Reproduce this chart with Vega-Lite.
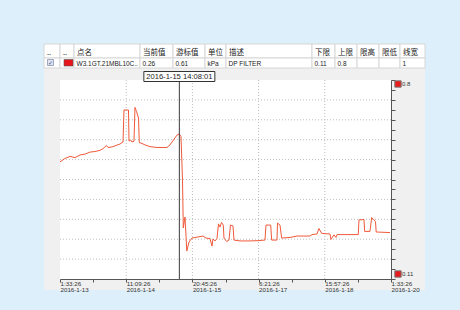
{
  "$schema": "https://vega.github.io/schema/vega-lite/v6.json",
  "width": 381,
  "height": 246,
  "autosize": {"type": "none"},
  "padding": {"left": 44, "top": 44, "right": 35, "bottom": 20},
  "background": "#ddeffa",
  "config": {"view": {"fill": "#f0f0f0", "stroke": null}},
  "datasets": {
    "series": [
      {"t":"2016-01-13T01:33","v":0.516},{"t":"2016-01-13T04:05","v":0.528},{"t":"2016-01-13T06:38","v":0.535},
      {"t":"2016-01-13T09:10","v":0.531},{"t":"2016-01-13T11:42","v":0.540},{"t":"2016-01-13T14:14","v":0.543},
      {"t":"2016-01-13T16:47","v":0.550},{"t":"2016-01-13T19:19","v":0.552},{"t":"2016-01-13T21:51","v":0.556},
      {"t":"2016-01-13T23:23","v":0.562},{"t":"2016-01-14T01:09","v":0.573},{"t":"2016-01-14T01:55","v":0.566},
      {"t":"2016-01-14T03:57","v":0.568},{"t":"2016-01-14T05:59","v":0.573},{"t":"2016-01-14T08:00","v":0.578},
      {"t":"2016-01-14T09:32","v":0.585},{"t":"2016-01-14T10:02","v":0.696},{"t":"2016-01-14T12:19","v":0.696},
      {"t":"2016-01-14T12:35","v":0.588},{"t":"2016-01-14T13:20","v":0.592},{"t":"2016-01-14T14:06","v":0.585},
      {"t":"2016-01-14T15:07","v":0.588},{"t":"2016-01-14T15:37","v":0.705},{"t":"2016-01-14T16:23","v":0.691},
      {"t":"2016-01-14T17:24","v":0.668},{"t":"2016-01-14T17:48","v":0.583},{"t":"2016-01-14T19:10","v":0.580},
      {"t":"2016-01-14T20:42","v":0.575},{"t":"2016-01-14T23:14","v":0.569},{"t":"2016-01-15T02:47","v":0.566},
      {"t":"2016-01-15T07:52","v":0.566},{"t":"2016-01-15T09:23","v":0.575},{"t":"2016-01-15T11:10","v":0.592},
      {"t":"2016-01-15T12:56","v":0.609},{"t":"2016-01-15T14:06","v":0.613},{"t":"2016-01-15T14:58","v":0.604},
      {"t":"2016-01-15T15:44","v":0.453},{"t":"2016-01-15T16:08","v":0.287},{"t":"2016-01-15T17:00","v":0.325},
      {"t":"2016-01-15T17:55","v":0.207},{"t":"2016-01-15T19:02","v":0.238},{"t":"2016-01-15T20:33","v":0.252},
      {"t":"2016-01-16T00:37","v":0.257},{"t":"2016-01-16T02:08","v":0.259},{"t":"2016-01-16T03:39","v":0.252},
      {"t":"2016-01-16T05:41","v":0.250},{"t":"2016-01-16T06:42","v":0.224},{"t":"2016-01-16T07:12","v":0.249},
      {"t":"2016-01-16T08:13","v":0.242},{"t":"2016-01-16T09:14","v":0.250},{"t":"2016-01-16T10:00","v":0.301},
      {"t":"2016-01-16T10:46","v":0.290},{"t":"2016-01-16T11:31","v":0.306},{"t":"2016-01-16T12:26","v":0.297},
      {"t":"2016-01-16T12:47","v":0.252},{"t":"2016-01-16T14:10","v":0.240},{"t":"2016-01-16T15:20","v":0.245},
      {"t":"2016-01-16T16:05","v":0.297},{"t":"2016-01-16T17:21","v":0.294},{"t":"2016-01-16T17:52","v":0.245},
      {"t":"2016-01-16T20:55","v":0.242},{"t":"2016-01-17T01:59","v":0.242},{"t":"2016-01-17T06:03","v":0.243},
      {"t":"2016-01-17T09:36","v":0.245},{"t":"2016-01-17T10:06","v":0.297},{"t":"2016-01-17T12:30","v":0.297},
      {"t":"2016-01-17T13:00","v":0.245},{"t":"2016-01-17T15:41","v":0.245},{"t":"2016-01-17T15:57","v":0.304},
      {"t":"2016-01-17T17:13","v":0.297},{"t":"2016-01-17T18:04","v":0.252},{"t":"2016-01-17T22:17","v":0.254},
      {"t":"2016-01-18T01:50","v":0.259},{"t":"2016-01-18T08:26","v":0.259},{"t":"2016-01-18T09:27","v":0.264},
      {"t":"2016-01-18T11:59","v":0.266},{"t":"2016-01-18T13:00","v":0.285},{"t":"2016-01-18T14:23","v":0.268},
      {"t":"2016-01-18T18:35","v":0.266},{"t":"2016-01-18T19:06","v":0.247},{"t":"2016-01-18T20:37","v":0.263},
      {"t":"2016-01-18T21:38","v":0.254},{"t":"2016-01-18T22:09","v":0.264},{"t":"2016-01-19T08:57","v":0.264},
      {"t":"2016-01-19T09:18","v":0.315},{"t":"2016-01-19T11:51","v":0.316},{"t":"2016-01-19T12:12","v":0.275},
      {"t":"2016-01-19T14:53","v":0.275},{"t":"2016-01-19T15:45","v":0.323},{"t":"2016-01-19T16:55","v":0.315},
      {"t":"2016-01-19T17:41","v":0.309},{"t":"2016-01-19T18:02","v":0.273},{"t":"2016-01-20T01:03","v":0.271}
    ],
    "frame": [{"t":"2016-01-13T01:33:26","end":"2016-01-20T01:33:26","v":0.11,"hi":0.8}],
    "vgrid": [{"t":"2016-01-14T11:09:26"},{"t":"2016-01-15T20:45:26"},{"t":"2016-01-17T06:21:26"},{"t":"2016-01-18T15:57:26"}],
    "hgrid": [{"v":0.179},{"v":0.248},{"v":0.317},{"v":0.386},{"v":0.455},{"v":0.524},{"v":0.593},{"v":0.662},{"v":0.731}],
    "cursor": [{"t":"2016-01-15T14:08:01","label":"2016-1-15 14:08:01","v":0.11,"hi":0.8}],
    "tip": [{"t":"2016-01-15T14:08:01","label":"2016-1-15 14:08:01","v":0.8}],
    "ends": [{"t":"2016-01-20T01:33:26","v":0.8,"label":"0.8","pos":"top"},{"t":"2016-01-20T01:33:26","v":0.11,"label":"0.11","pos":"bottom"}],
    "cells": [
      {"c":0,"c1":1,"r":0,"r1":1,"text":".."},{"c":1,"c1":2,"r":0,"r1":1,"text":".."},
      {"c":2,"c1":3,"r":0,"r1":1,"text":"点名"},{"c":3,"c1":4,"r":0,"r1":1,"text":"当前值"},
      {"c":4,"c1":5,"r":0,"r1":1,"text":"游标值"},{"c":5,"c1":6,"r":0,"r1":1,"text":"单位"},
      {"c":6,"c1":7,"r":0,"r1":1,"text":"描述"},{"c":7,"c1":8,"r":0,"r1":1,"text":"下限"},
      {"c":8,"c1":9,"r":0,"r1":1,"text":"上限"},{"c":9,"c1":10,"r":0,"r1":1,"text":"限高"},
      {"c":10,"c1":11,"r":0,"r1":1,"text":"限低"},{"c":11,"c1":12,"r":0,"r1":1,"text":"线宽"},
      {"c":0,"c1":1,"r":1,"r1":2,"text":""},{"c":1,"c1":2,"r":1,"r1":2,"text":""},
      {"c":2,"c1":3,"r":1,"r1":2,"text":"W3.1GT.21MBL10C.."},{"c":3,"c1":4,"r":1,"r1":2,"text":"0.26"},
      {"c":4,"c1":5,"r":1,"r1":2,"text":"0.61"},{"c":5,"c1":6,"r":1,"r1":2,"text":"kPa"},
      {"c":6,"c1":7,"r":1,"r1":2,"text":"DP FILTER"},{"c":7,"c1":8,"r":1,"r1":2,"text":"0.11"},
      {"c":8,"c1":9,"r":1,"r1":2,"text":"0.8"},{"c":9,"c1":10,"r":1,"r1":2,"text":""},
      {"c":10,"c1":11,"r":1,"r1":2,"text":""},{"c":11,"c1":12,"r":1,"r1":2,"text":"1"}
    ],
    "swatch": [{"c":1,"c1":2,"r":1,"r1":2}],
    "check": [{"c":0,"c1":1,"r":1,"r1":2,"text":"✓"}]
  },
  "layer": [
    {
      "layer": [
        {
          "data": {"name": "frame"},
          "mark": {"type": "rect", "fill": "#ffffff"},
          "encoding": {
            "x": {"field": "t", "type": "temporal", "title": null,
              "scale": {"type": "time", "domain": [{"year":2016,"month":1,"date":13,"hours":1,"minutes":33,"seconds":26},{"year":2016,"month":1,"date":20,"hours":1,"minutes":33,"seconds":26}], "range": [16, 347], "nice": false},
              "axis": {
                "orient": "bottom", "offset": -11, "title": null, "grid": false, "tickCount": 40,
                "values": [
                  {"year":2016,"month":1,"date":13,"hours":1,"minutes":33,"seconds":26},
                  {"year":2016,"month":1,"date":13,"hours":18,"minutes":21,"seconds":26},
                  {"year":2016,"month":1,"date":14,"hours":11,"minutes":9,"seconds":26},
                  {"year":2016,"month":1,"date":15,"hours":3,"minutes":57,"seconds":26},
                  {"year":2016,"month":1,"date":15,"hours":20,"minutes":45,"seconds":26},
                  {"year":2016,"month":1,"date":16,"hours":13,"minutes":33,"seconds":26},
                  {"year":2016,"month":1,"date":17,"hours":6,"minutes":21,"seconds":26},
                  {"year":2016,"month":1,"date":17,"hours":23,"minutes":9,"seconds":26},
                  {"year":2016,"month":1,"date":18,"hours":15,"minutes":57,"seconds":26},
                  {"year":2016,"month":1,"date":19,"hours":8,"minutes":45,"seconds":26},
                  {"year":2016,"month":1,"date":20,"hours":1,"minutes":33,"seconds":26}
                ],
                "labelExpr": "round(datum.index*10)%2==0 ? [timeFormat(datum.value,'%-H:%M:%S'), timeFormat(datum.value,'%Y-%-m-%-d')] : ''",
                "labelAlign": "left", "labelBaseline": "top", "labelPadding": -2,
                "labelFont": "Liberation Sans", "labelFontSize": 6.2, "labelLineHeight": 6.3,
                "labelColor": "#333333", "labelOverlap": false, "labelFlush": false, "labelBound": false,
                "domainColor": "#555555", "domainWidth": 1, "tickColor": "#555555", "tickSize": 3, "tickWidth": 1
              }},
            "x2": {"field": "end"},
            "y": {"field": "v", "type": "quantitative", "title": null,
              "scale": {"type": "linear", "domain": [0.11, 0.8], "range": [235, 36], "nice": false, "zero": false},
              "axis": {
                "orient": "right", "offset": -34, "title": null, "grid": false, "labels": false, "tickCount": 60,
                "values": [0.11,0.1445,0.179,0.2135,0.248,0.2825,0.317,0.3515,0.386,0.4205,0.455,0.4895,0.524,0.5585,0.593,0.6275,0.662,0.6965,0.731,0.7655,0.8],
                "domainColor": "#555555", "domainWidth": 1, "tickColor": "#555555", "tickSize": 4, "tickWidth": 1
              }},
            "y2": {"field": "hi"}
          }
        },
        {
          "data": {"name": "hgrid"},
          "mark": {"type": "rule", "stroke": "#bdbdbd", "strokeWidth": 1, "strokeDash": [1, 2]},
          "encoding": {
            "x": {"datum": {"year":2016,"month":1,"date":13,"hours":1,"minutes":33,"seconds":26}, "type": "temporal"},
            "x2": {"datum": {"year":2016,"month":1,"date":20,"hours":1,"minutes":33,"seconds":26}},
            "y": {"field": "v", "type": "quantitative", "title": null}
          }
        },
        {
          "data": {"name": "vgrid"},
          "mark": {"type": "rule", "stroke": "#bdbdbd", "strokeWidth": 1, "strokeDash": [1, 2]},
          "encoding": {
            "x": {"field": "t", "type": "temporal", "title": null},
            "y": {"datum": 0.11, "type": "quantitative"},
            "y2": {"datum": 0.8}
          }
        },
        {
          "data": {"name": "series"},
          "mark": {"type": "line", "stroke": "#f05a3a", "strokeWidth": 1},
          "encoding": {
            "x": {"field": "t", "type": "temporal", "title": null},
            "y": {"field": "v", "type": "quantitative", "title": null}
          }
        },
        {
          "data": {"name": "cursor"},
          "mark": {"type": "rule", "stroke": "#3a3a3a", "strokeWidth": 1},
          "encoding": {
            "x": {"field": "t", "type": "temporal", "title": null},
            "y": {"field": "v", "type": "quantitative", "title": null},
            "y2": {"field": "hi"}
          }
        },
        {
          "data": {"name": "tip"},
          "mark": {"type": "rect", "width": 71, "height": 10, "fill": "#ffffff", "stroke": "#333333", "strokeWidth": 1, "yOffset": -3.5},
          "encoding": {
            "x": {"field": "t", "type": "temporal", "title": null},
            "y": {"field": "v", "type": "quantitative", "title": null}
          }
        },
        {
          "data": {"name": "tip"},
          "mark": {"type": "text", "font": "Liberation Sans", "fontSize": 7.6, "color": "#222222", "align": "center", "baseline": "middle", "dy": -3.5},
          "encoding": {
            "x": {"field": "t", "type": "temporal", "title": null},
            "y": {"field": "v", "type": "quantitative", "title": null},
            "text": {"field": "label"}
          }
        },
        {
          "data": {"name": "ends"},
          "transform": [{"filter": "datum.pos == 'top'"}],
          "mark": {"type": "square", "size": 40, "filled": true, "fill": "#e81c1c", "stroke": "#777777", "strokeWidth": 1, "opacity": 1, "xOffset": 7, "yOffset": 4},
          "encoding": {
            "x": {"field": "t", "type": "temporal", "title": null},
            "y": {"field": "v", "type": "quantitative", "title": null}
          }
        },
        {
          "data": {"name": "ends"},
          "transform": [{"filter": "datum.pos == 'bottom'"}],
          "mark": {"type": "square", "size": 40, "filled": true, "fill": "#e81c1c", "stroke": "#777777", "strokeWidth": 1, "opacity": 1, "xOffset": 7, "yOffset": -5},
          "encoding": {
            "x": {"field": "t", "type": "temporal", "title": null},
            "y": {"field": "v", "type": "quantitative", "title": null}
          }
        },
        {
          "data": {"name": "ends"},
          "transform": [{"filter": "datum.pos == 'top'"}],
          "mark": {"type": "text", "font": "Liberation Sans", "fontSize": 6, "color": "#333333", "align": "left", "baseline": "middle", "dx": 11, "dy": 4},
          "encoding": {
            "x": {"field": "t", "type": "temporal", "title": null},
            "y": {"field": "v", "type": "quantitative", "title": null},
            "text": {"field": "label"}
          }
        },
        {
          "data": {"name": "ends"},
          "transform": [{"filter": "datum.pos == 'bottom'"}],
          "mark": {"type": "text", "font": "Liberation Sans", "fontSize": 6, "color": "#333333", "align": "left", "baseline": "middle", "dx": 11, "dy": -5},
          "encoding": {
            "x": {"field": "t", "type": "temporal", "title": null},
            "y": {"field": "v", "type": "quantitative", "title": null},
            "text": {"field": "label"}
          }
        }
      ]
    },
    {
      "layer": [
        {
          "data": {"name": "cells"},
          "mark": {"type": "rect", "fill": "#ffffff", "stroke": "#d6d6d6", "strokeWidth": 1},
          "encoding": {
            "x": {"field": "c", "type": "quantitative", "axis": null,
              "scale": {"type": "linear", "domain": [0,1,2,3,4,5,6,7,8,9,10,11,12], "range": [0,16,30,96,129,161,182,268,291,313,335,356,381], "nice": false, "zero": false}},
            "x2": {"field": "c1"},
            "y": {"field": "r", "type": "quantitative", "axis": null,
              "scale": {"type": "linear", "domain": [0,1,2], "range": [0,14,24], "nice": false, "zero": false}},
            "y2": {"field": "r1"}
          }
        },
        {
          "data": {"name": "swatch"},
          "mark": {"type": "rect", "fill": "#e8141c", "stroke": "#555555", "strokeWidth": 0.6, "xOffset": 4, "x2Offset": -1, "yOffset": 1.5, "y2Offset": -2},
          "encoding": {
            "x": {"field": "c", "type": "quantitative", "axis": null},
            "x2": {"field": "c1"},
            "y": {"field": "r", "type": "quantitative", "axis": null},
            "y2": {"field": "r1"}
          }
        },
        {
          "data": {"name": "check"},
          "mark": {"type": "rect", "fill": "#dfe5f0", "stroke": "#8a94ae", "strokeWidth": 0.8, "xOffset": 3.5, "x2Offset": -6.5, "yOffset": 1.5, "y2Offset": -2.5},
          "encoding": {
            "x": {"field": "c", "type": "quantitative", "axis": null},
            "x2": {"field": "c1"},
            "y": {"field": "r", "type": "quantitative", "axis": null},
            "y2": {"field": "r1"}
          }
        },
        {
          "data": {"name": "check"},
          "mark": {"type": "text", "font": "DejaVu Sans", "fontSize": 6, "color": "#3a4a8a", "align": "center", "baseline": "middle", "dx": 6.5, "dy": 5},
          "encoding": {
            "x": {"field": "c", "type": "quantitative", "axis": null},
            "y": {"field": "r", "type": "quantitative", "axis": null},
            "text": {"field": "text"}
          }
        },
        {
          "data": {"name": "cells"},
          "transform": [{"filter": "datum.r == 0"}],
          "mark": {"type": "text", "font": "Noto Sans CJK SC", "fontSize": 7.5, "color": "#1a1a1a", "align": "left", "baseline": "bottom", "dx": 3, "dy": -1},
          "encoding": {
            "x": {"field": "c", "type": "quantitative", "axis": null},
            "y": {"field": "r1", "type": "quantitative", "axis": null},
            "text": {"field": "text"}
          }
        },
        {
          "data": {"name": "cells"},
          "transform": [{"filter": "datum.r == 1"}],
          "mark": {"type": "text", "font": "Liberation Sans", "fontSize": 6.5, "color": "#1a1a1a", "align": "left", "baseline": "bottom", "dx": 2.5, "dy": -1.5},
          "encoding": {
            "x": {"field": "c", "type": "quantitative", "axis": null},
            "y": {"field": "r1", "type": "quantitative", "axis": null},
            "text": {"field": "text"}
          }
        }
      ]
    }
  ],
  "resolve": {"scale": {"x": "independent", "y": "independent"}, "axis": {"x": "independent", "y": "independent"}}
}
